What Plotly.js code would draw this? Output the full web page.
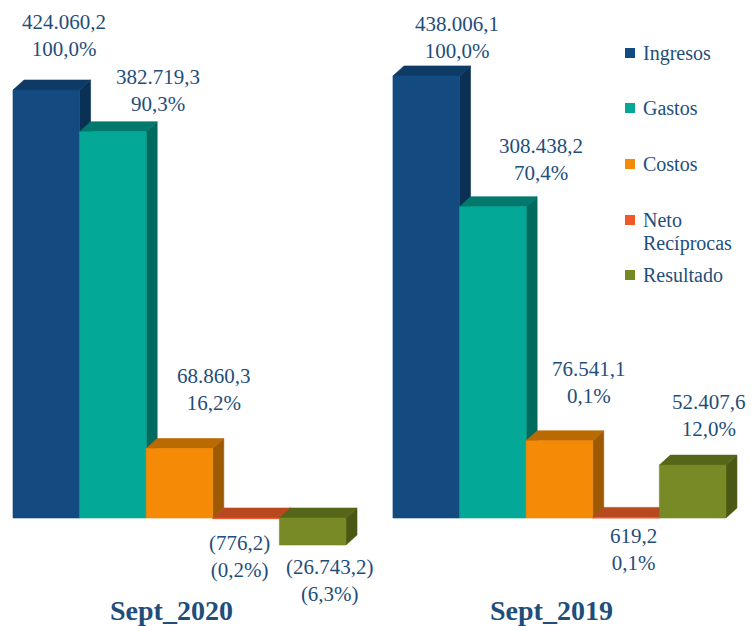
<!DOCTYPE html>
<html>
<head>
<meta charset="utf-8">
<script src="https://cdn.plot.ly/plotly-3.0.1.min.js"></script>
</head>
<body style="margin:0;padding:0;background:#fff;">
<div id="chart"></div>
<script>
// ---- DATA ----
var categories = ['Sept_2020', 'Sept_2019'];
var seriesNames = ['Ingresos', 'Gastos', 'Costos', 'Neto Rec\u00edprocas', 'Resultado'];
var ingresos = [424060.2, 438006.1];
var gastos = [382719.3, 308438.2];
var costos = [68860.3, 76541.1];
var netoReciprocas = [-776.2, 619.2];
var resultado = [-26743.2, 52407.6];
var ingresosPct = [100.0, 100.0];
var gastosPct = [90.3, 70.4];
var costosPct = [16.2, 0.1];
var netoReciprocasPct = [-0.2, 0.1];
var resultadoPct = [-6.3, 12.0];

// ---- STYLE ----
var chartW = 753, chartH = 626;
var xRange = [-0.695, 10.611];
var yRange = [-107006, 513234];
var groupStep = 5.705;
var depthXpx = 11, depthYpx = 10;
var ddx = depthXpx * (xRange[1] - xRange[0]) / chartW;
var ddy = depthYpx * (yRange[1] - yRange[0]) / chartH;
var labelColor = '#1F4E7A';
var colors = [
  {front: '#134B80', top: '#0E3B66', side: '#0A3053', legend: '#134B80'},
  {front: '#03A896', top: '#02796C', side: '#016A5F', legend: '#03A896'},
  {front: '#F48A05', top: '#BA6A02', side: '#9E5A02', legend: '#F48A05'},
  {front: '#E8592A', top: '#B8481E', side: '#9A3C18', legend: '#F05A28'},
  {front: '#778A25', top: '#566619', side: '#4A5815', legend: '#738A22'}
];
// label offsets in pixels [xshift, yshift] per group, per series
var labelShift = [
  [[18, 55], [45, 41], [35, 59], [-7, -38], [17, -36]],
  [[31, 38], [48, 47], [30, 58], [7, -32], [16, 50]]
];

var values = [ingresos, gastos, costos, netoReciprocas, resultado];
var pcts = [ingresosPct, gastosPct, costosPct, netoReciprocasPct, resultadoPct];

function fmtNum(v) {
  var a = Math.abs(v);
  var parts = a.toFixed(1).split('.');
  var intPart = parts[0].replace(/\B(?=(\d{3})+(?!\d))/g, '.');
  var s = intPart + ',' + parts[1];
  return v < 0 ? '(' + s + ')' : s;
}
function fmtPct(p) {
  var s = Math.abs(p).toFixed(1).replace('.', ',') + '%';
  return p < 0 ? '(' + s + ')' : s;
}
function poly(xs, ys, color) {
  return {
    type: 'scatter', mode: 'lines',
    x: xs.concat([xs[0]]), y: ys.concat([ys[0]]),
    fill: 'toself', fillcolor: color,
    line: {width: 0.6, color: color},
    hoverinfo: 'skip', showlegend: false
  };
}

var traces = [];
var annotations = [];
categories.forEach(function (cat, g) {
  values.forEach(function (arr, i) {
    var v = arr[g];
    var xl = g * groupStep + i - 0.5, xr = xl + 1;
    var yTop = Math.max(v, 0), yBot = Math.min(v, 0);
    var c = colors[i];
    traces.push(poly([xr, xr + ddx, xr + ddx, xr], [yBot, yBot + ddy, yTop + ddy, yTop], c.side));
    traces.push(poly([xl, xl + ddx, xr + ddx, xr], [yTop, yTop + ddy, yTop + ddy, yTop], c.top));
    traces.push(poly([xl, xr, xr, xl], [yBot, yBot, yTop, yTop], c.front));
    annotations.push({
      x: xl + 0.5, y: v, xref: 'x', yref: 'y',
      text: fmtNum(v) + '<br>' + fmtPct(pcts[i][g]),
      showarrow: false, xanchor: 'center', yanchor: 'middle', align: 'center',
      xshift: labelShift[g][i][0], yshift: labelShift[g][i][1],
      font: {family: 'Liberation Serif', size: 21, color: labelColor}
    });
  });
  annotations.push({
    x: g * groupStep + 2, y: 1 - 610 / chartH, xref: 'x', yref: 'paper',
    text: '<b>' + cat + '</b>', showarrow: false, xanchor: 'center', yanchor: 'middle',
    xshift: -8, font: {family: 'Liberation Serif', size: 28, color: labelColor}
  });
});

// legend (drawn manually to reproduce spacing)
var legendY = [53, 108, 164, 220, 275];
var shapes = [];
seriesNames.forEach(function (name, i) {
  var yc = legendY[i];
  shapes.push({
    type: 'rect', xref: 'paper', yref: 'paper',
    x0: 625 / chartW, x1: 635 / chartW, y0: 1 - (yc + 5) / chartH, y1: 1 - (yc - 5) / chartH,
    fillcolor: colors[i].legend, line: {width: 0}
  });
  var lines = name.indexOf('Neto ') === 0 ? name.split(' ') : [name];
  lines.forEach(function (ln, k) {
    annotations.push({
      x: 641 / chartW, y: 1 - (yc + k * 23) / chartH, xref: 'paper', yref: 'paper',
      text: ln, showarrow: false, xanchor: 'left', yanchor: 'middle', align: 'left',
      font: {family: 'Liberation Serif', size: 20, color: labelColor}
    });
  });
});

var layout = {
  width: chartW, height: chartH,
  font: {family: 'Liberation Serif', color: labelColor},
  margin: {l: 0, r: 0, t: 0, b: 0, pad: 0},
  paper_bgcolor: '#ffffff', plot_bgcolor: '#ffffff',
  showlegend: false,
  xaxis: {range: xRange, visible: false, fixedrange: true},
  yaxis: {range: yRange, visible: false, fixedrange: true},
  annotations: annotations,
  shapes: shapes
};
Plotly.newPlot('chart', traces, layout, {displayModeBar: false});
</script>
</body>
</html>
